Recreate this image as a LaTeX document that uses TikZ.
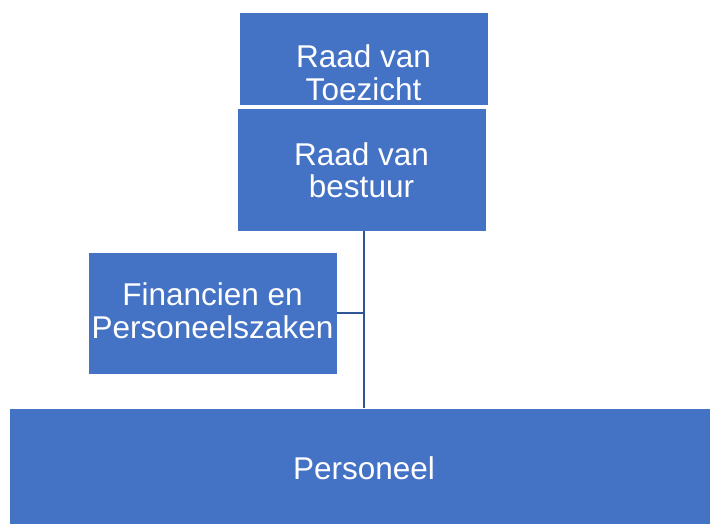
\documentclass[tikz,border=0pt]{standalone}
\usepackage{fontspec}
\setmainfont{Liberation Sans}
\definecolor{boxblue}{HTML}{4472C4}
\definecolor{linkblue}{HTML}{2F5597}
\begin{document}
\begin{tikzpicture}[x=1pt,y=1pt,
  box/.style={rectangle, fill=boxblue, draw=white, line width=0.8pt, inner sep=0pt},
  lbl/.style={text=white, align=center, inner sep=0pt},
  link/.style={draw=linkblue, line width=2pt}]
\useasboundingbox (0,0) rectangle (710,524);
\clip (0,0) rectangle (710,524);
\node[box, minimum width=249pt, minimum height=93pt] (b1) at (363.5,465.5) {};
\node[box, minimum width=249pt, minimum height=123pt] (b2) at (361.5,354.5) {};
\node[box, minimum width=249pt, minimum height=122pt] (b3) at (212.5,211) {};
\node[box, minimum width=710pt, minimum height=120pt] (b4) at (364,56) {};
\node[lbl, font=\fontsize{31.5}{33}\selectfont] (t1) at (363.5,451.5) {Raad van\\Toezicht};
\node[lbl, font=\fontsize{31.5}{32}\selectfont] (t2) at (361.5,354) {Raad van\\bestuur};
\node[lbl, font=\fontsize{31.5}{33}\selectfont] (t3) at (212.5,213) {Financien en\\Personeelszaken};
\node[lbl, font=\fontsize{31.5}{34}\selectfont] (t4) at (364,56) {Personeel};
\coordinate (jn) at (363.5,211);
\draw[link] (b2.south -| jn) -- (b4.north -| jn);
\draw[link] (b3.east) -- (jn);
\end{tikzpicture}
\end{document}
